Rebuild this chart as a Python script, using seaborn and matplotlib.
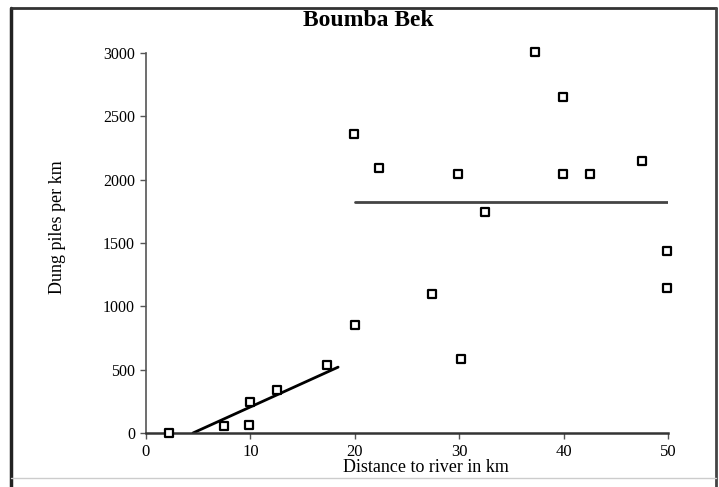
import matplotlib
matplotlib.use("Agg")
import matplotlib.pyplot as plt
from matplotlib.lines import Line2D
import seaborn as sns
import pandas as pd

# Data
distance_km = [2.2, 7.5, 9.9, 10.0, 12.5, 17.3, 19.9, 20.0, 22.3, 27.4,
               29.9, 30.2, 32.5, 37.3, 39.9, 39.9, 42.5, 47.5, 49.9, 49.9]
dung_piles = [0, 55, 60, 245, 340, 540, 2360, 855, 2090, 1095,
              2045, 585, 1745, 3005, 2650, 2045, 2045, 2150, 1435, 1145]

fit1_x = [4.5, 18.4]
fit1_y = [0, 520]
fit2_x = [20.0, 50.0]
fit2_y = [1820, 1820]

x_ticks = [0, 10, 20, 30, 40, 50]
y_ticks = [0, 500, 1000, 1500, 2000, 2500, 3000]

sns.set_style("white")
plt.rcParams["font.family"] = ["Liberation Serif", "DejaVu Serif"]
plt.rcParams["text.color"] = "black"
plt.rcParams["axes.labelcolor"] = "black"
plt.rcParams["xtick.color"] = "black"
plt.rcParams["ytick.color"] = "black"

fig = plt.figure(figsize=(7.19, 4.87), dpi=100)
ax = fig.add_axes([146 / 719, 1 - 433 / 487, (668 - 146) / 719, (433 - 53) / 487])

df = pd.DataFrame({"x": distance_km, "y": dung_piles})
sns.scatterplot(data=df, x="x", y="y", ax=ax, marker="s", s=34,
                facecolor="white", edgecolor="black", linewidth=1.6,
                clip_on=False, zorder=3)
sns.lineplot(x=fit1_x, y=fit1_y, ax=ax, color="black", linewidth=2.0, zorder=2)
sns.lineplot(x=fit2_x, y=fit2_y, ax=ax, color="#444444", linewidth=2.0, zorder=2)

ax.set_xlim(0, 50)
ax.set_ylim(0, 3000)
ax.set_xticks(x_ticks)
ax.set_yticks(y_ticks)
ax.set_xticklabels([str(v) for v in x_ticks])
ax.set_yticklabels([str(v) for v in y_ticks])
for s in ["top", "right"]:
    ax.spines[s].set_visible(False)
ax.spines["left"].set_color("#555555")
ax.spines["left"].set_linewidth(1.2)
ax.spines["bottom"].set_color("#333333")
ax.spines["bottom"].set_linewidth(1.8)
ax.tick_params(axis="y", direction="out", length=4, width=1, color="#555555",
               labelsize=11.5, pad=4, left=True, labelcolor="black")
ax.tick_params(axis="x", direction="out", length=4, width=1, color="#555555",
               labelsize=12, pad=4, bottom=True, labelcolor="black")

ax.set_xlabel("Distance to river in km", fontsize=13, color="black")
ax.xaxis.set_label_coords((426 - 146) / 522, -(459 - 433) / 380)
ax.set_ylabel("Dung piles per km", fontsize=13, color="black")
ax.yaxis.set_label_coords((66 - 146) / 522, (433 - 227) / 380)
fig.text(368 / 719, 1 - 20 / 487, "Boumba Bek", ha="center", va="center",
         fontsize=17, fontweight="bold", color="black")

# outer frame of the scanned figure
def fl(x0, y0, x1, y1, c, lw):
    fig.add_artist(Line2D([x0 / 719, x1 / 719], [1 - y0 / 487, 1 - y1 / 487],
                          transform=fig.transFigure, color=c, linewidth=lw))

fl(11, 8, 11, 487, "#222222", 2.5)
fl(11, 8, 716, 8, "#333333", 2.0)
fl(716, 8, 716, 487, "#444444", 2.0)
fl(11, 478, 716, 478, "#cccccc", 1.0)

fig.savefig("out.png", dpi=100)
